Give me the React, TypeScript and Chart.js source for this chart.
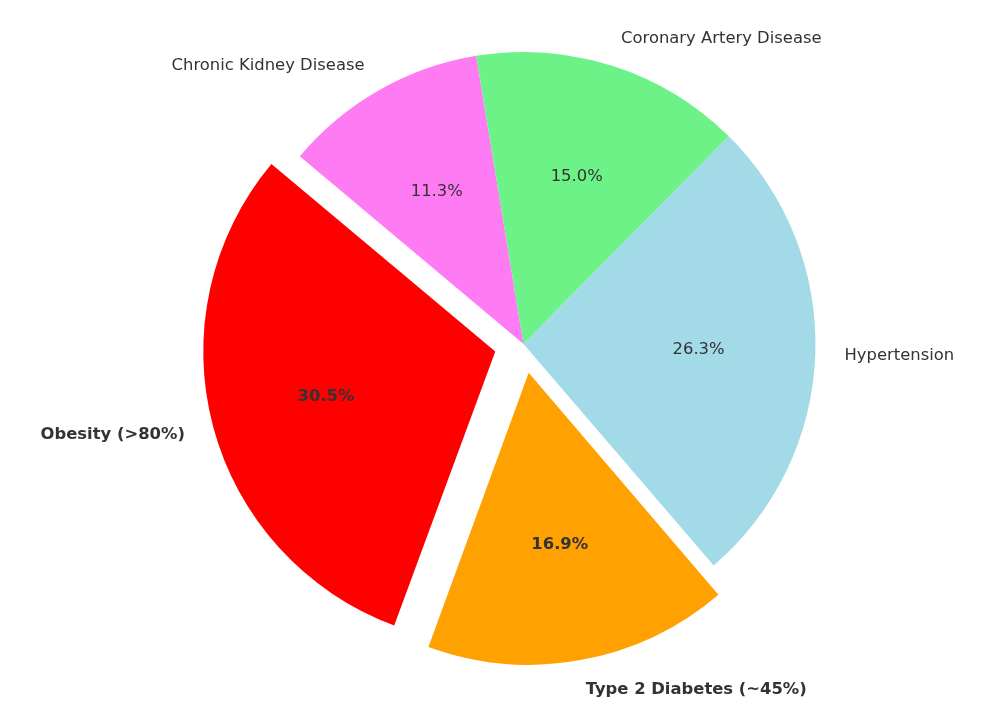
import React, { useEffect, useRef } from "react";
import { Chart, registerables } from "chart.js";

Chart.register(...registerables);

// Chart.js draws clockwise, so slices are listed in clockwise order
const categories = [
  "Chronic Kidney Disease",
  "Coronary Artery Disease",
  "Hypertension",
  "Type 2 Diabetes (~45%)",
  "Obesity (>80%)",
];
const shares = [11.3, 15.0, 26.3, 16.9, 30.5];
const explode = [0, 0, 0, 0.1, 0.1];
const bold = [false, false, false, true, true];
const colors = ["#ff7bf4", "#6cf287", "#a2dae8", "#ffa100", "#ff0000"];

const RADIUS = 292;
const FONT = '"DejaVu Sans", sans-serif';
const TEXT_COLOR = "#333333";

// keep exploded wedges at the same radius (Chart.js enlarges offset arcs slightly)
const radiusFixPlugin = {
  id: "radiusFix",
  beforeDatasetsDraw(chart: any) {
    const meta = chart.getDatasetMeta(0);
    meta.data.forEach((arc: any, i: number) => {
      const off = explode[i] * RADIUS;
      const circ = arc.endAngle - arc.startAngle;
      const fix = 1 - Math.sin(Math.min(Math.PI, circ));
      arc.outerRadius = RADIUS - off * fix;
    });
  },
};

const labelPlugin = {
  id: "pieLabels",
  afterDatasetsDraw(chart: any) {
    const ctx = chart.ctx;
    const meta = chart.getDatasetMeta(0);
    const data = chart.data.datasets[0].data as number[];
    const total = data.reduce((a, b) => a + b, 0);
    ctx.save();
    meta.data.forEach((arc: any, i: number) => {
      const mid = (arc.startAngle + arc.endAngle) / 2;
      const r = RADIUS;
      const off = explode[i] * r;
      const cx = arc.x + Math.cos(mid) * off;
      const cy = arc.y + Math.sin(mid) * off;
      const weight = bold[i] ? "bold " : "";
      ctx.font = `${weight}16.4px ${FONT}`;
      ctx.fillStyle = TEXT_COLOR;
      ctx.textBaseline = "middle";
      const lx = cx + Math.cos(mid) * r * 1.1;
      const ly = cy + Math.sin(mid) * r * 1.1;
      ctx.textAlign = Math.cos(mid) > 0 ? "left" : "right";
      ctx.fillText(categories[i], lx, ly + 0.5);
      const px = cx + Math.cos(mid) * r * 0.6;
      const py = cy + Math.sin(mid) * r * 0.6;
      ctx.textAlign = "center";
      ctx.fillText(((data[i] / total) * 100).toFixed(1) + "%", px, py);
    });
    ctx.restore();
  },
};

export default function App() {
  const ref = useRef<HTMLCanvasElement | null>(null);
  useEffect(() => {
    if (!ref.current) return;
    const chart = new Chart(ref.current, {
      type: "pie",
      data: {
        labels: categories,
        datasets: [
          {
            data: shares,
            backgroundColor: colors,
            borderWidth: 0,
            offset: explode.map((e) => e * RADIUS * 4),
            clip: false as any,
          } as any,
        ],
      },
      options: {
        responsive: false,
        animation: false,
        events: [],
        rotation: -50,
        radius: RADIUS,
        layout: { padding: { left: 61, right: 0, top: 0, bottom: 16 } },
        plugins: {
          legend: { display: false },
          tooltip: { enabled: false },
        },
      } as any,
      plugins: [radiusFixPlugin, labelPlugin],
    });
    return () => chart.destroy();
  }, []);
  return (
    <div style={{ position: "fixed", left: 0, top: 0, width: 986, height: 704, background: "#ffffff" }}>
      <canvas ref={ref} width={986} height={704} style={{ display: "block" }} />
    </div>
  );
}
